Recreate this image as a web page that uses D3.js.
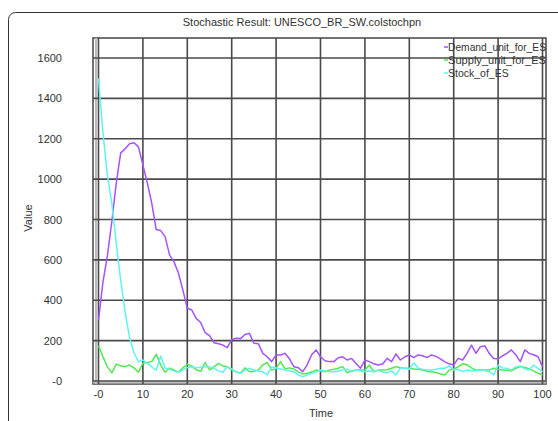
<!DOCTYPE html>
<html>
<head>
<meta charset="utf-8">
<script src="https://cdn.jsdelivr.net/npm/d3@7/dist/d3.min.js"></script>
<style>
  body { margin: 0; background: #fff; }
  svg { display: block; font-family: "Liberation Sans", Arial, sans-serif; }
</style>
</head>
<body>
<div id="chart"></div>
<script>
// values, one per time step 0..100
var demand = [300, 490, 620, 790, 980, 1130, 1150, 1175, 1180, 1160,
  1070, 980, 880, 750, 745, 715, 625, 590, 535, 450,
  360, 352, 310, 290, 240, 225, 190, 185, 178, 165,
  205, 212, 210, 230, 236, 187, 185, 137, 120, 96,
  129, 129, 137, 110, 71, 66, 46, 80, 130, 154,
  120, 100, 96, 96, 115, 120, 104, 112, 87, 63,
  104, 96, 85, 79, 84, 112, 96, 134, 104, 120,
  129, 116, 129, 125, 116, 129, 122, 110, 95, 85,
  79, 112, 104, 137, 178, 137, 170, 174, 137, 112,
  110, 125, 137, 154, 129, 96, 154, 137, 130, 120, 71];

var supply = [175, 120, 70, 40, 84, 75, 71, 79, 65, 43,
  89, 92, 96, 132, 80, 43, 64, 55, 43, 65,
  83, 75, 55, 48, 91, 55, 70, 87, 75, 71,
  55, 45, 38, 65, 46, 48, 54, 80, 92, 54,
  63, 96, 60, 65, 60, 45, 35, 38, 45, 54,
  50, 46, 54, 58, 63, 71, 41, 50, 54, 54,
  54, 79, 46, 54, 54, 56, 63, 71, 66, 63,
  63, 60, 58, 54, 48, 46, 42, 35, 30, 54,
  60, 70, 85, 80, 65, 54, 54, 54, 54, 63,
  58, 54, 54, 50, 63, 71, 68, 60, 50, 38, 30];

var stock = [1500, 1230, 1020, 880, 680, 500, 340, 215, 140, 95,
  104, 87, 70, 54, 124, 64, 58, 50, 43, 55,
  67, 71, 65, 68, 71, 70, 65, 50, 43, 71,
  60, 45, 38, 55, 63, 54, 50, 46, 30, 71,
  63, 60, 54, 50, 46, 30, 21, 30, 38, 45,
  54, 50, 46, 46, 50, 54, 60, 46, 54, 50,
  46, 50, 46, 54, 45, 41, 50, 30, 63, 63,
  58, 90, 63, 58, 55, 55, 58, 63, 63, 75,
  54, 58, 46, 55, 50, 52, 54, 52, 46, 30,
  79, 65, 63, 54, 70, 75, 60, 54, 79, 63, 46];

var seriesNames = ["Demand_unit_for_ES", "Supply_unit_for_ES", "Stock_of_ES"];
var seriesColors = ["#a552ff", "#52e852", "#5ef4f4"];
var xTicks = [0, 10, 20, 30, 40, 50, 60, 70, 80, 90, 100];
var yTicks = [0, 200, 400, 600, 800, 1000, 1200, 1400, 1600];

var W = 558, H = 421;
var svg = d3.select("#chart").append("svg")
    .attr("width", W).attr("height", H);

// outer panel
svg.append("rect")
    .attr("x", 8.5).attr("y", 12.5)
    .attr("width", 600).attr("height", 500)
    .attr("rx", 7)
    .attr("fill", "#fff")
    .attr("stroke", "#333").attr("stroke-width", 1);

svg.append("text")
    .attr("x", 302).attr("y", 26)
    .attr("text-anchor", "middle")
    .attr("font-size", 11).attr("fill", "#333")
    .text("Stochastic Result: UNESCO_BR_SW.colstochpn");

var x = d3.scaleLinear().domain([0, 100]).range([98.5, 542.5]);
var y = d3.scaleLinear().domain([0, 1600]).range([381, 58]);

var fL = 93, fR = 546, fT = 38, fB = 384;

// frame
svg.append("rect")
    .attr("x", fL).attr("y", fT)
    .attr("width", fR - fL).attr("height", fB - fT)
    .attr("fill", "#fff")
    .attr("stroke", "#444").attr("stroke-width", 1.5);
svg.append("line")
    .attr("x1", fL + 3).attr("x2", fL + 3).attr("y1", fT).attr("y2", fB)
    .attr("stroke", "#bbb").attr("stroke-width", 2);
svg.append("line")
    .attr("x1", fL).attr("x2", fR).attr("y1", fB - 1.5).attr("y2", fB - 1.5)
    .attr("stroke", "#bbb").attr("stroke-width", 2);

// grid
svg.append("g").selectAll("line").data(xTicks).enter().append("line")
    .attr("x1", function (d) { return x(d); }).attr("x2", function (d) { return x(d); })
    .attr("y1", fT).attr("y2", fB)
    .attr("stroke", "#4a4a4a").attr("stroke-width", 1.6);
svg.append("g").selectAll("line").data(yTicks).enter().append("line")
    .attr("x1", fL).attr("x2", fR)
    .attr("y1", function (d) { return y(d); }).attr("y2", function (d) { return y(d); })
    .attr("stroke", "#4a4a4a").attr("stroke-width", 1.6);

// axes labels
var fmt = function (d) { return d === 0 ? "-0" : String(d); };
svg.append("g").selectAll("text").data(yTicks).enter().append("text")
    .attr("x", 62).attr("y", function (d) { return y(d) + 4; })
    .attr("text-anchor", "end")
    .attr("font-size", 11).attr("fill", "#333")
    .text(fmt);
svg.append("g").selectAll("text").data(xTicks).enter().append("text")
    .attr("x", function (d) { return x(d); }).attr("y", 398)
    .attr("text-anchor", "middle")
    .attr("font-size", 11).attr("fill", "#333")
    .text(fmt);

svg.append("text")
    .attr("x", 321).attr("y", 417)
    .attr("text-anchor", "middle")
    .attr("font-size", 11).attr("fill", "#333")
    .text("Time");
svg.append("text")
    .attr("transform", "translate(32,218) rotate(-90)")
    .attr("text-anchor", "middle")
    .attr("font-size", 11).attr("fill", "#333")
    .text("Value");

// series
var line = d3.line()
    .x(function (d, i) { return x(i); })
    .y(function (d) { return y(d); });
[demand, supply, stock].forEach(function (s, k) {
  svg.append("path")
      .datum(s)
      .attr("d", line)
      .attr("fill", "none")
      .attr("stroke", seriesColors[k])
      .attr("stroke-width", 1.5)
      .attr("stroke-linejoin", "round");
});

// legend
var lg = svg.append("g");
seriesNames.forEach(function (n, k) {
  var ly = 47 + k * 13;
  lg.append("line")
      .attr("x1", 444).attr("x2", 448)
      .attr("y1", ly).attr("y2", ly)
      .attr("stroke", seriesColors[k]).attr("stroke-width", 1.5);
  lg.append("text")
      .attr("x", 448).attr("y", ly + 4)
      .attr("font-size", 10.5).attr("fill", "#333")
      .attr("textLength", k === 2 ? null : 98)
      .attr("lengthAdjust", "spacingAndGlyphs")
      .text(n);
});
</script>
</body>
</html>
